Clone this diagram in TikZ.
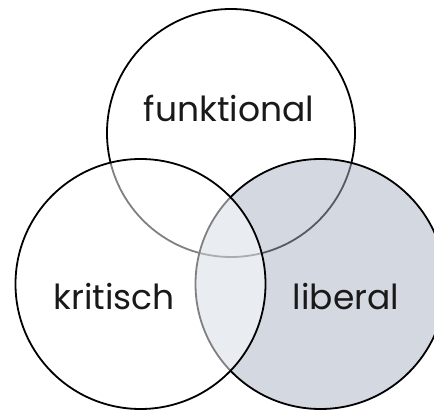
\documentclass[tikz,border=0pt]{standalone}
\usepackage{fontspec}
\setmainfont{Poppins}
\definecolor{libfill}{RGB}{171,181,197}
\begin{document}
\begin{tikzpicture}[x=1pt,y=-1pt,
  venn/.style={draw=black,line width=1.8pt,fill opacity=0.5},
  lbl/.style={font=\fontsize{34.5}{40}\selectfont,text=black!90}]
\useasboundingbox (0,0) rectangle (434,411);
\clip (0,0) rectangle (434,411);
\fill[white] (0,0) rectangle (434,411);
\node[venn,circle,minimum size=248pt,inner sep=0pt,fill=white] (funk) at (231,133) {};
\node[venn,circle,minimum size=250pt,inner sep=0pt,fill=libfill] (lib) at (320.5,284) {};
\node[venn,circle,minimum size=250pt,inner sep=0pt,fill=white] (krit) at (140.5,284) {};
\node[lbl] (tf) at (229,108) {funktional};
\node[lbl] (tk) at (114,297) {kritisch};
\node[lbl] (tl) at (346,297) {liberal};
\end{tikzpicture}
\end{document}
